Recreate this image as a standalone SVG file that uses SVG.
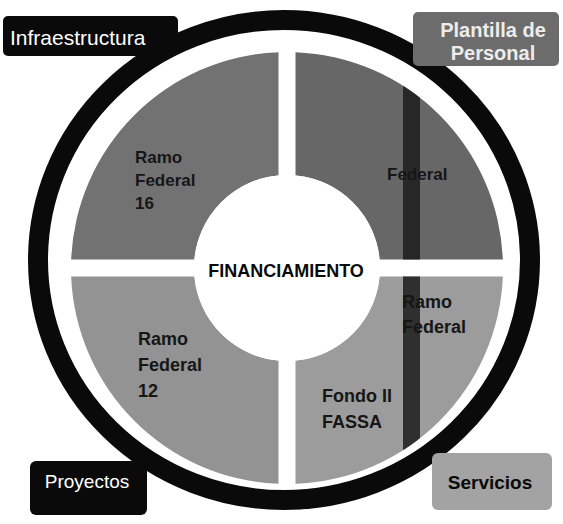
<svg xmlns="http://www.w3.org/2000/svg" width="563" height="524" viewBox="0 0 563 524">
<style>
  .lbl { font-family: "Liberation Sans", Arial, sans-serif; font-weight: bold; fill: #161616; }
  .q { font-size: 17px; }
  .q2 { font-size: 18px; }
  .box-dark { fill: #0a0a0a; }
  .wt { font-family: "Liberation Sans", Arial, sans-serif; fill: #ffffff; }
</style>
<defs>
  <clipPath id="rightQ">
    <path d="M295.5,52.17 A216,216 0 0 1 502.83,259.5 L379.61,259.5 A93,93 0 0 0 295.5,175.39 Z"/>
    <path d="M502.83,276.5 A216,216 0 0 1 295.5,483.83 L295.5,360.61 A93,93 0 0 0 379.61,276.5 Z"/>
  </clipPath>
</defs>
<rect width="563" height="524" fill="#ffffff"/>

<g id="ring">
  <ellipse cx="284" cy="260" rx="246" ry="240" fill="none" stroke="#0a0a0a" stroke-width="20"/>
</g>

<g id="q-top-left">
  <path d="M278.5,52.17 A216,216 0 0 0 71.17,259.5 L194.39,259.5 A93,93 0 0 1 278.5,175.39 Z" fill="#727272"/>
  <text class="lbl q" x="135" y="163">Ramo</text>
  <text class="lbl q" x="135" y="186">Federal</text>
  <text class="lbl q" x="135" y="209">16</text>
</g>

<g id="q-top-right">
  <path d="M295.5,52.17 A216,216 0 0 1 502.83,259.5 L379.61,259.5 A93,93 0 0 0 295.5,175.39 Z" fill="#676767"/>
</g>

<g id="q-bottom-left">
  <path d="M278.5,483.83 A216,216 0 0 1 71.17,276.5 L194.39,276.5 A93,93 0 0 0 278.5,360.61 Z" fill="#939393"/>
  <text class="lbl q2" x="138" y="345">Ramo</text>
  <text class="lbl q2" x="138" y="371">Federal</text>
  <text class="lbl q2" x="138" y="397">12</text>
</g>

<g id="q-bottom-right">
  <path d="M502.83,276.5 A216,216 0 0 1 295.5,483.83 L295.5,360.61 A93,93 0 0 0 379.61,276.5 Z" fill="#9c9c9c"/>
</g>

<g id="streak">
  <rect x="403" y="40" width="17" height="450" fill="#1c1c1c" opacity="0.85" clip-path="url(#rightQ)"/>
</g>

<g id="q-labels-right">
  <text class="lbl q" x="387" y="180">Federal</text>
  <text class="lbl q2" x="402" y="308">Ramo</text>
  <text class="lbl q2" x="402" y="333">Federal</text>
  <text class="lbl q2" x="322" y="402">Fondo II</text>
  <text class="lbl q2" x="322" y="428">FASSA</text>
</g>

<g id="center">
  <circle cx="287" cy="268" r="93" fill="#ffffff"/>
  <text class="lbl" x="286" y="277" font-size="18" text-anchor="middle" style="fill:#0a0a0a">FINANCIAMIENTO</text>
</g>

<g id="infraestructura">
  <rect class="box-dark" x="3" y="16" width="175" height="40" rx="5"/>
  <text class="wt" x="10" y="45" font-size="21">Infraestructura</text>
</g>

<g id="plantilla">
  <rect x="413" y="12" width="146" height="54" rx="5" fill="#6c6c6c"/>
  <text class="lbl" x="493" y="37" font-size="20" text-anchor="middle" style="fill:#ececec">Plantilla de</text>
  <text class="lbl" x="493" y="60" font-size="20" text-anchor="middle" style="fill:#ececec">Personal</text>
</g>

<g id="proyectos">
  <rect class="box-dark" x="30" y="461" width="117" height="54" rx="6"/>
  <text class="wt" x="87" y="488" font-size="19" text-anchor="middle">Proyectos</text>
</g>

<g id="servicios">
  <rect x="432" y="453" width="120" height="57" rx="6" fill="#a3a3a3"/>
  <text class="lbl" x="490" y="489" font-size="19" text-anchor="middle" style="fill:#0a0a0a">Servicios</text>
</g>
</svg>
